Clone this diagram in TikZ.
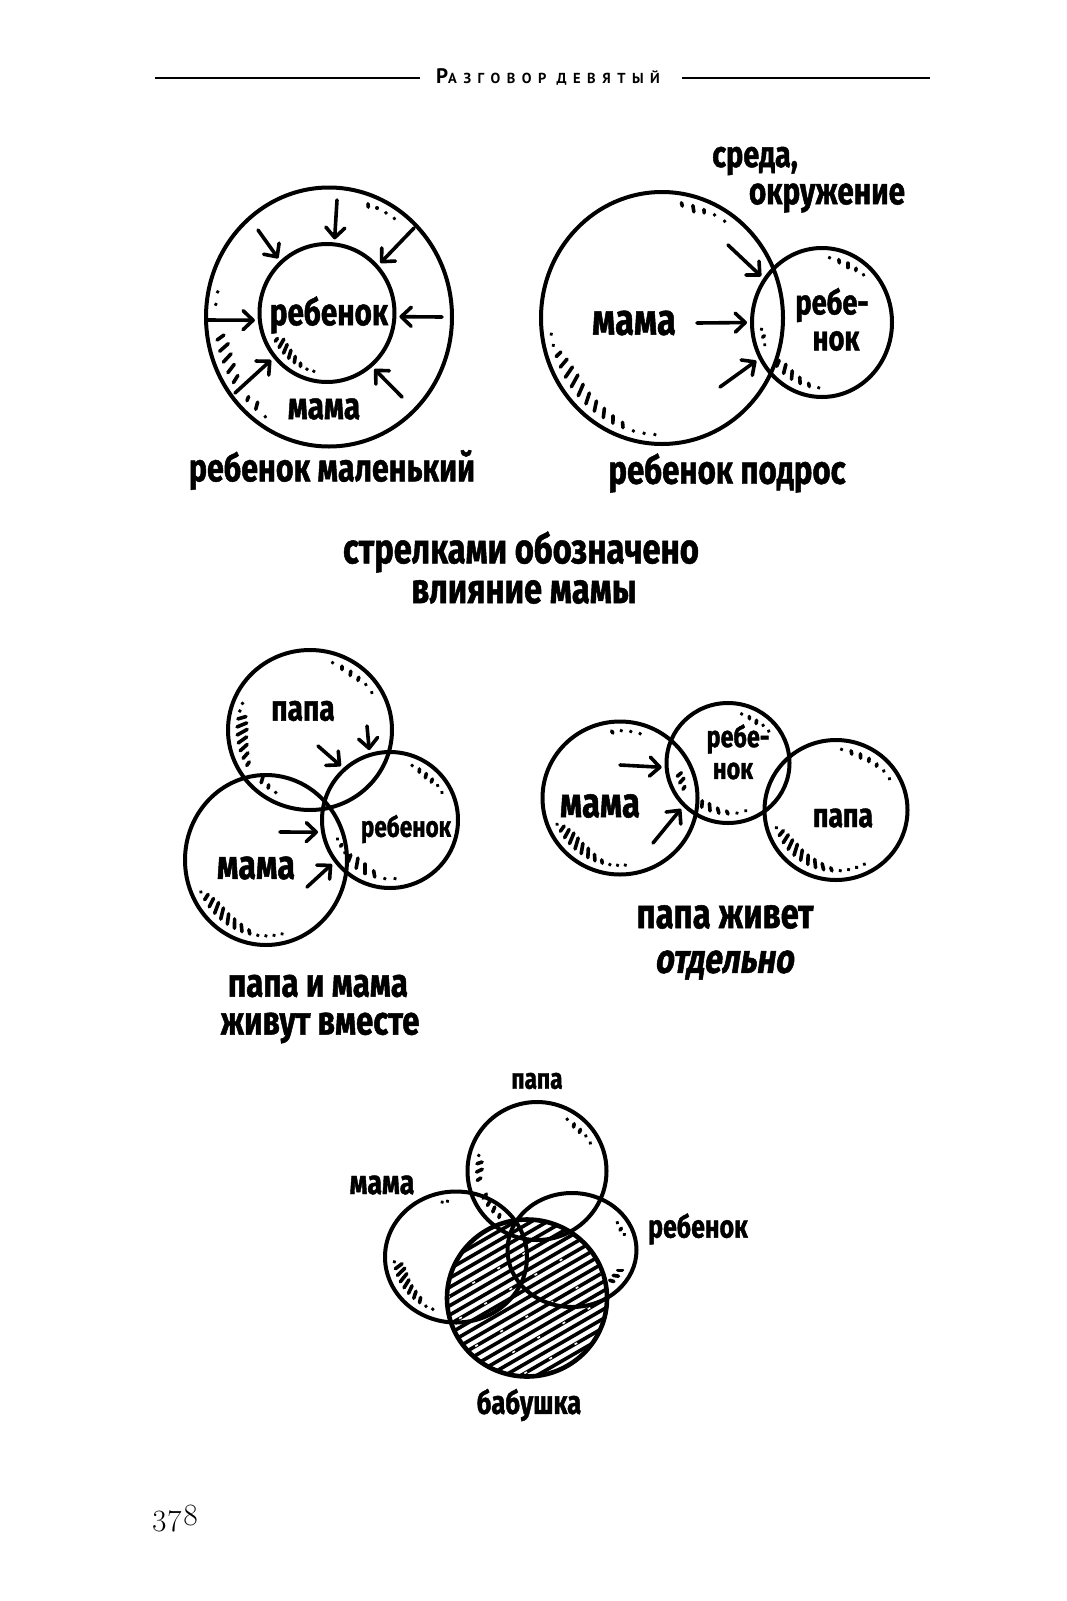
\documentclass[tikz,border=0pt]{standalone}
\usepackage{fontspec}
\usetikzlibrary{arrows.meta,shapes.geometric}
\newfontfamily\hand{Fira Sans}[FakeStretch=0.78,FakeBold=1.2]
\newfontfamily\handsl{Fira Sans}[FakeStretch=0.78,FakeSlant=0.15,FakeBold=1.2]
\newfontfamily\headfont{PT Sans}[LetterSpace=45]
\newfontfamily\pagefont{Latin Modern Roman}[Numbers=OldStyle]
\def\htilt{25}
\newcommand\hatchset[8]{%
  \foreach \L [count=\k from 0] in {#8} {
    \pgfmathsetmacro\t{#6+(#7)*\k}
    \draw[hstroke] ({#1+(#3-#5)*cos(\t)},{#2-(#4-#5)*sin(\t)}) -- ++({(\L+0.4)*cos(\t+180+\htilt)},{-(\L+0.4)*sin(\t+180+\htilt)});
  }
}
\tikzset{
  ring/.style={draw, ellipse, line width=4pt, inner sep=0pt},
  hl/.style={font=\hand\bfseries\fontsize{#1}{#1}\selectfont, inner sep=0pt},
  hls/.style={font=\handsl\bfseries\fontsize{#1}{#1}\selectfont, inner sep=0pt},
  arr/.style={line width=3.6pt, line cap=round, shorten >=3pt, -{Straight Barb[length=10pt,width=19pt,round]}},
  hstroke/.style={line width=3.6pt, line cap=round},
  rule/.style={line width=1.8pt},
}
\begin{document}
\begin{tikzpicture}[x=1pt,y=-1pt]
\useasboundingbox (0,0) rectangle (1067,1601);
% header
\node[anchor=base west, inner sep=0pt, font=\headfont\bfseries] (head) at (436,83) {\fontsize{21}{21}\selectfont Р\fontsize{14.5}{14.5}\selectfont АЗГОВОР ДЕВЯТЫЙ};
\coordinate (hL1) at (155,78); \coordinate (hL2) at (420,78);
\coordinate (hR1) at (682,78); \coordinate (hR2) at (930,78);
\draw[rule] (hL1) -- (hL2);
\draw[rule] (hR1) -- (hR2);

% ---------- diagram 1 ----------
\node[ring, minimum width=246pt, minimum height=259pt] (O1) at (329,317) {};
\node[ring, minimum width=135pt, minimum height=138pt] (I1) at (327,313) {};
\node[hl=38] (t1a) at (329,315) {ребенок};
\node[hl=38] (t1b) at (324,409) {мама};
\node[hl=39] (t1c) at (332,470) {ребенок маленький};
\foreach \sx/\sy/\ang [count=\i] in {337/200/84, 258/230/132, 414/228/43, 207/320/186, 442/317/357, 235/393/220, 402/397/310} {
  \coordinate (s1-\i) at (\sx,\sy);
  \draw[arr] (s1-\i) -- (I1.\ang);
}
\hatchset{329}{317}{123}{129.5}{9}{70}{-5}{3,0,0,0}
\hatchset{329}{317}{123}{129.5}{9}{168}{6}{0,0}
\hatchset{329}{317}{123}{129.5}{9}{191}{5.5}{8,11,11,10,8}
\hatchset{329}{317}{123}{129.5}{9}{224}{6}{4,7,0}
\hatchset{327}{313}{67.5}{69}{9}{208}{7}{3,9,9,8,6,3,0,0}

% ---------- diagram 2 ----------
\node[ring, minimum width=242pt, minimum height=252pt] (M2) at (662,318) {};
\node[ring, minimum width=140pt, minimum height=149pt] (R2) at (822,322.5) {};
\node[hl=37] (t2a) at (755,161) {среда,};
\node[hl=38] (t2b) at (827,198) {окружение};
\node[hl=44] (t2c) at (634,323) {мама};
\node[hl=35] (t2d) at (832,305) {ребе-};
\node[hl=35] (t2e) at (836,341) {нок};
\node[hl=40] (t2f) at (727,473) {ребенок подрос};
\foreach \sx/\sy/\ang [count=\i] in {728/245/143, 697/323/180, 720/387/210} {
  \coordinate (s2-\i) at (\sx,\sy);
  \draw[arr] (s2-\i) -- (R2.\ang);
}
\hatchset{662}{318}{121}{126}{9}{80}{-6}{3,6,3,0,0}
\hatchset{662}{318}{121}{126}{9}{188}{5.6}{0,0,6,10,12,13,12,11,10,9,7,5,0,0,0}
\hatchset{822}{322.5}{70}{74.5}{9}{83}{-9}{0,3,4,2,0}
\hatchset{822}{322.5}{70}{74.5}{9}{222}{9}{6,9,8,6,3,0}
\hatchset{822}{322.5}{70}{74.5}{9}{186}{7}{0,2,0}

% ---------- middle text ----------
\node[hl=42] (m1) at (521,552) {стрелками обозначено};
\node[hl=42] (m2) at (524,592) {влияние мамы};

% ---------- diagram 3 ----------
\node[ring, minimum width=164pt, minimum height=160pt] (P3) at (310,730) {};
\node[ring, minimum width=162pt, minimum height=170pt] (M3) at (266,860) {};
\node[ring, minimum width=136pt, minimum height=136pt] (R3) at (390,820) {};
\node[hl=36] (t3a) at (303,711) {папа};
\node[hl=41] (t3b) at (256,868) {мама};
\node[hl=29] (t3c) at (406,829) {ребенок};
\node[hl=40] (t3d) at (318,986) {папа и мама};
\node[hl=40] (t3e) at (320,1028) {живут вместе};
\foreach \sx/\sy/\ang [count=\i] in {318/746/132, 367/726/107, 280/832/190, 307/887/217} {
  \coordinate (s3-\i) at (\sx,\sy);
  \draw[arr] (s3-\i) -- (R3.\ang);
}
\hatchset{310}{730}{82}{80}{9}{72}{-8}{0,3,4,3,0,0}
\hatchset{310}{730}{82}{80}{9}{158}{6.5}{0,0,8,10,11,10,9,7,4}
\hatchset{310}{730}{82}{80}{9}{228}{7}{6,3,0}
\hatchset{266}{860}{81}{85}{9}{205}{6.5}{0,6,9,11,11,10,9,7,4,0,0,0,0}
\hatchset{390}{820}{68}{68}{9}{68}{-8}{0,3,4,3,0,0}
\hatchset{390}{820}{68}{68}{9}{225}{10}{7,10,9,6,0,0}
\hatchset{390}{820}{68}{68}{12}{200}{8}{0,2,0}

% ---------- diagram 4 ----------
\node[ring, minimum width=155pt, minimum height=153pt] (M4) at (620,798) {};
\node[ring, minimum width=123pt, minimum height=120pt] (R4) at (728,763) {};
\node[ring, minimum width=143pt, minimum height=140pt] (P4) at (836,810) {};
\node[hl=42] (t4a) at (600,806) {мама};
\node[hl=30] (t4b) at (738,739) {ребе-};
\node[hl=30] (t4c) at (733,771) {нок};
\node[hl=34] (t4d) at (843,818) {папа};
\node[hl=42] (t4e) at (725,917) {папа живет};
\node[hls=41] (t4f) at (724,965) {отдельно};
\foreach \sx/\sy/\ang [count=\i] in {620/765/184, 653/843/224} {
  \coordinate (s4-\i) at (\sx,\sy);
  \draw[arr] (s4-\i) -- (R4.\ang);
}
\hatchset{620}{798}{77.5}{76.5}{9}{97}{-8}{2,0,0,0}
\hatchset{620}{798}{77.5}{76.5}{9}{203}{6.5}{0,6,9,11,11,10,9,6,3,0,0,0}
\hatchset{728}{763}{61.5}{60}{9}{75}{-9}{0,2,3,0,0}
\hatchset{728}{763}{61.5}{60}{9}{240}{10}{6,7,5,3,0,0}
\hatchset{728}{763}{61.5}{60}{9}{195}{8}{5,6,3}
\hatchset{836}{810}{71.5}{70}{9}{85}{-9}{0,3,4,3,2,0,0}
\hatchset{836}{810}{71.5}{70}{9}{197}{7.7}{0,6,9,10,11,10,9,8,6,3,0,0,0,0}

% ---------- diagram 5 ----------
\begin{scope}
  \clip (527,1298) ellipse [x radius=80, y radius=78.5];
  \foreach \k in {-112,-104,...,112} {
    \draw[line width=3.6pt] ({527-0.5*\k-110},{1298-0.866*\k+63.5}) -- ({527-0.5*\k+110},{1298-0.866*\k-63.5});
  }
  \foreach \k in {-64,-40,-16,16,40} {
    \draw[white, line width=1.6pt, dash pattern=on 3pt off 26pt] ({527-0.5*\k-110},{1298-0.866*\k+63.5}) -- ({527-0.5*\k+110},{1298-0.866*\k-63.5});
  }
\end{scope}
\node[ring, minimum width=139pt, minimum height=138pt] (P5) at (537,1171) {};
\node[ring, minimum width=142pt, minimum height=131pt] (M5) at (456,1257) {};
\node[ring, minimum width=129pt, minimum height=114pt] (R5) at (572,1250) {};
\node[ring, line width=4.6pt, minimum width=160pt, minimum height=157pt] (B5) at (527,1298) {};
\node[hl=29] (t5a) at (537,1081) {папа};
\node[hl=34] (t5b) at (382,1185) {мама};
\node[hl=32] (t5c) at (698,1229) {ребенок};
\node[hl=33] (t5d) at (529,1405) {бабушка};
\hatchset{537}{1171}{69.5}{69}{9}{60}{-8}{0,3,3,0,0}
\hatchset{537}{1171}{69.5}{69}{9}{165}{8}{0,5,6,4}
\hatchset{537}{1171}{69.5}{69}{9}{207}{8}{5,6,5,3,0}
\hatchset{456}{1257}{71}{65.5}{9}{103}{-5}{0,0}
\hatchset{456}{1257}{71}{65.5}{9}{185}{7}{0,8,10,10,9,8,7,5,0,0}
\hatchset{572}{1250}{64.5}{57}{9}{35}{-8}{0,2,0}
\hatchset{572}{1250}{64.5}{57}{9}{-25}{-8}{4,5,4}

% page number
\node[anchor=base west, inner sep=0pt, font=\pagefont\fontsize{31}{31}\selectfont] (pg) at (151,1525) {378};
\end{tikzpicture}
\end{document}
